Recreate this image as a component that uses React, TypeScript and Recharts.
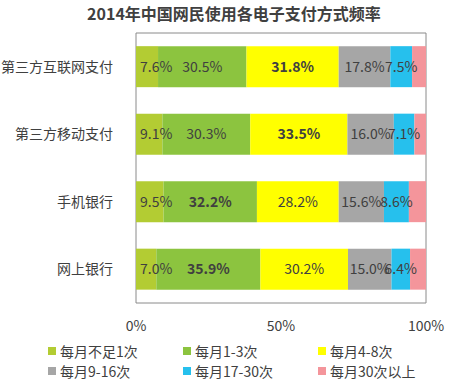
import { BarChart, Bar, XAxis, YAxis, LabelList, ReferenceArea } from "recharts";

const categories = ["第三方互联网支付", "第三方移动支付", "手机银行", "网上银行"];
const seriesNames = ["每月不足1次", "每月1-3次", "每月4-8次", "每月9-16次", "每月17-30次", "每月30次以上"];
const lt1 = [7.6, 9.1, 9.5, 7.0];
const m1to3 = [30.5, 30.3, 32.2, 35.9];
const m4to8 = [31.8, 33.5, 28.2, 30.2];
const m9to16 = [17.8, 16.0, 15.6, 15.0];
const m17to30 = [7.5, 7.1, 8.6, 6.4];
const m30plus = [4.8, 4.0, 5.9, 5.5];
const xTicks = [0, 50, 100];
// the biggest share in each row is shown in bold
const boldKey = ["s2", "s2", "s1", "s1"];

const colors = ["#b3cc33", "#8cc43f", "#ffff00", "#a6a6a6", "#26c0ed", "#f4959b"];
const FONT = '"Noto Sans CJK SC", "Noto Sans", sans-serif';

const series = [lt1, m1to3, m4to8, m9to16, m17to30, m30plus];
const data = categories.map((name, i) => {
  const row: Record<string, string | number> = { name };
  series.forEach((s, k) => (row["s" + k] = s[i]));
  return row;
});

const makeLabel = (key: string, first: boolean) => (props: any) => {
  const { x, y, width, height, value, index } = props;
  const text = Number(value).toFixed(1) + "%";
  const bold = boldKey[index] === key;
  return (
    <text
      x={first ? x + 4 : x + width / 2}
      y={y + height / 2}
      dy="0.35em"
      textAnchor={first ? "start" : "middle"}
      fontSize={14}
      fontWeight={bold ? 700 : 400}
      fill="#404040"
      fontFamily={FONT}
    >
      {text}
    </text>
  );
};

function Legend6() {
  const cols = [48, 183, 318];
  return (
    <div style={{ position: "absolute", left: 0, top: 341, width: 453, height: 40 }}>
      {seriesNames.map((n, i) => (
        <div
          key={n}
          style={{
            position: "absolute",
            left: cols[i % 3],
            top: Math.floor(i / 3) * 20,
            display: "flex",
            alignItems: "center",
            fontFamily: FONT,
            fontSize: 14,
            color: "#404040",
            lineHeight: "20px",
            whiteSpace: "nowrap",
          }}
        >
          <span style={{ width: 8, height: 8, background: colors[i], marginRight: 4, display: "inline-block" }} />
          {n}
        </div>
      ))}
    </div>
  );
}

export default function App() {
  return (
    <div style={{ position: "absolute", left: 0, top: 0, width: 453, height: 384, background: "#fff" }}>
      <div
        style={{
          position: "absolute",
          left: 0,
          top: 2,
          width: 468,
          textAlign: "center",
          fontFamily: FONT,
          fontWeight: 700,
          fontSize: 16,
          color: "#404040",
          lineHeight: "22px",
        }}
      >
        2014年中国网民使用各电子支付方式频率
      </div>
      <BarChart
        width={453}
        height={340}
        data={data}
        layout="vertical"
        margin={{ top: 33, right: 27, left: 6, bottom: 0 }}
        barCategoryGap="19.5%"
      >
        <XAxis
          type="number"
          domain={[0, 100]}
          ticks={xTicks}
          tickFormatter={(v) => v + "%"}
          axisLine={false}
          tickLine={false}
          tick={{ fontSize: 14, fill: "#404040", fontFamily: FONT }}
          tickMargin={12}
          height={37}
        />
        <YAxis
          type="category"
          dataKey="name"
          width={130}
          axisLine={false}
          tickLine={false}
          tick={{ fontSize: 14, fill: "#404040", fontFamily: FONT }}
          tickMargin={17}
        />
        <ReferenceArea x1={0} x2={100} fill="none" stroke="#8a8a8a" strokeWidth={1} ifOverflow="visible" />
        {series.map((_, k) => (
          <Bar key={k} dataKey={"s" + k} stackId="a" fill={colors[k]} isAnimationActive={false}>
            {k < 5 && <LabelList dataKey={"s" + k} content={makeLabel("s" + k, k === 0)} />}
          </Bar>
        ))}
      </BarChart>
      <Legend6 />
    </div>
  );
}
